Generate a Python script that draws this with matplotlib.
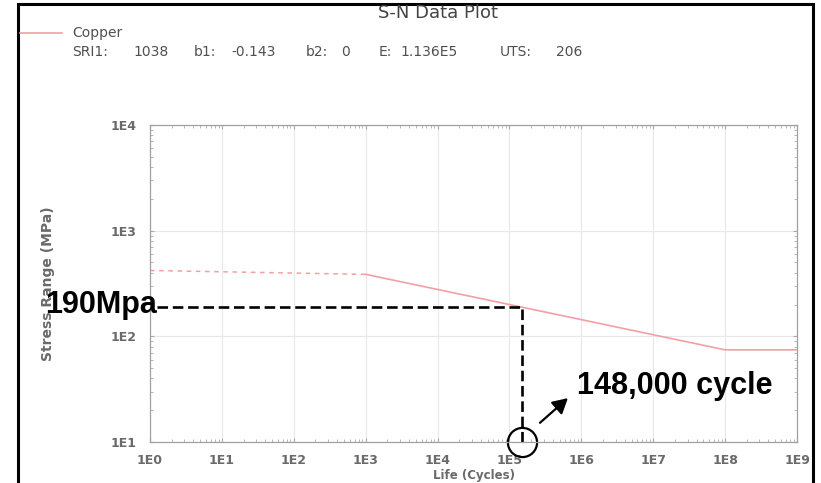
import numpy as np
import matplotlib
matplotlib.use("Agg")
import matplotlib.pyplot as plt
from matplotlib.ticker import FuncFormatter, LogLocator
from matplotlib.patches import Rectangle
from matplotlib.lines import Line2D

# S-N curve of copper
life_lcf = [1e0, 1e3]          # low cycle part, drawn dashed
stress_lcf = [420, 386]
life_hcf = [1e3, 1e8, 1e9]     # fitted part + endurance limit
stress_hcf = [386, 74.5, 74.5]

# material parameters shown under the legend
material = "Copper"
sri1 = 1038
b1 = -0.143
b2 = 0
E_mod = "1.136E5"
uts = 206

# marked point
n_cycles = 1.48e5
stress_at_n = 190
stress_label = "190Mpa"
cycles_label = "148,000 cycle"

pink = "#f2a0a4"
gray_txt = "#6a6a6a"

W, H = 821, 483
fig = plt.figure(figsize=(W / 100, H / 100), dpi=100)
ax = fig.add_axes([150 / W, 1 - 442 / H, 647 / W, 317 / H])

ax.plot(life_lcf, stress_lcf, color=pink, lw=1.1, dashes=(3, 3))
ax.plot(life_hcf, stress_hcf, color=pink, lw=1.2)

ax.set_xscale("log")
ax.set_yscale("log")
ax.set_xlim(1, 1e9)
ax.set_ylim(10, 1e4)

fmt = FuncFormatter(lambda v, p: "1E%d" % round(np.log10(v)))
ax.xaxis.set_major_locator(LogLocator(base=10, numticks=12))
ax.yaxis.set_major_locator(LogLocator(base=10, numticks=12))
ax.xaxis.set_major_formatter(fmt)
ax.yaxis.set_major_formatter(fmt)
ax.xaxis.set_minor_locator(LogLocator(base=10, subs=np.arange(2, 10), numticks=12))
ax.yaxis.set_minor_locator(LogLocator(base=10, subs=np.arange(2, 10), numticks=12))
ax.xaxis.set_minor_formatter(plt.NullFormatter())
ax.yaxis.set_minor_formatter(plt.NullFormatter())

ax.tick_params(which="both", direction="in", top=True, right=True, color="#aaaaaa")
ax.tick_params(which="major", length=3, width=0.8)
ax.tick_params(which="minor", length=2, width=0.6)
ax.tick_params(axis="x", which="major", pad=9, labelsize=9, labelcolor=gray_txt)
ax.tick_params(axis="y", which="major", pad=10, labelsize=9, labelcolor=gray_txt)
for lab in ax.get_xticklabels() + ax.get_yticklabels():
    lab.set_fontweight("bold")

for sp in ax.spines.values():
    sp.set_color("#a0a0a0")
    sp.set_linewidth(0.9)

ax.grid(which="major", color="#e8e8e8", lw=0.8)
ax.set_axisbelow(True)

ax.set_xlabel("Life (Cycles)", fontsize=8.5, color=gray_txt, fontweight="bold")
ax.xaxis.set_label_coords(0.5, -0.105)
ax.xaxis.label.set_va("center")
ax.set_ylabel("Stress Range (MPa)", fontsize=10, color=gray_txt, fontweight="bold")
ax.yaxis.set_label_coords(-0.158, 0.5)
ax.yaxis.label.set_va("center")

# reading lines for the marked point
ax.plot([1.25, n_cycles], [stress_at_n, stress_at_n], color="black", lw=1.9,
        dashes=(4, 1.8), clip_on=False)
ax.plot([n_cycles, n_cycles], [10, stress_at_n], color="black", lw=1.9,
        dashes=(4, 1.8), clip_on=False)
ax.plot([n_cycles], [10], marker="o", ms=21, mfc="none", mec="black", mew=1.6,
        clip_on=False)

ax.annotate(stress_label, xy=(1.25, stress_at_n), xytext=(0, -4.5),
            textcoords="offset points", ha="right", va="baseline",
            fontsize=22, fontweight="bold", family="Liberation Sans", color="black")
ax.annotate("", xy=(6.5e5, 26), xytext=(2.66e5, 15.2),
            arrowprops=dict(arrowstyle="-|>,head_length=0.9,head_width=0.5",
                            color="black", lw=1.6, shrinkA=0, shrinkB=0))
ax.text(8.7e5, 34, cycles_label, ha="left", va="center", fontsize=22,
        fontweight="bold", family="Liberation Sans", color="black")

# title and legend block above the axes
fig.text(438 / W, 1 - 13 / H, "S-N Data Plot", ha="center", va="center",
         fontsize=13, color="#444444")
fig.add_artist(Line2D([20 / W, 62 / W], [1 - 33 / H, 1 - 33 / H],
                      transform=fig.transFigure, color=pink, lw=1.2))
fig.text(72 / W, 1 - 33 / H, material, ha="left", va="center", fontsize=10,
         color="#505050")
pieces = ["SRI1:", str(sri1), "b1:", "%.3f" % b1, "b2:", str(b2),
          "E:", E_mod, "UTS:", str(uts)]
piece_x = [72, 133, 194, 231, 306, 341, 379, 400, 500, 556]
for px, txt in zip(piece_x, pieces):
    fig.text(px / W, 1 - 52 / H, txt, ha="left", va="center", fontsize=10,
             color="#505050")

# frame round the picture (bottom edge is cut off)
fig.add_artist(Rectangle((18 / W, -0.05), (813 - 18) / W, 1.05 - 4 / H,
                         transform=fig.transFigure, fill=False, ec="black",
                         lw=2.2, clip_on=False))

fig.savefig("out.png", dpi=100)
